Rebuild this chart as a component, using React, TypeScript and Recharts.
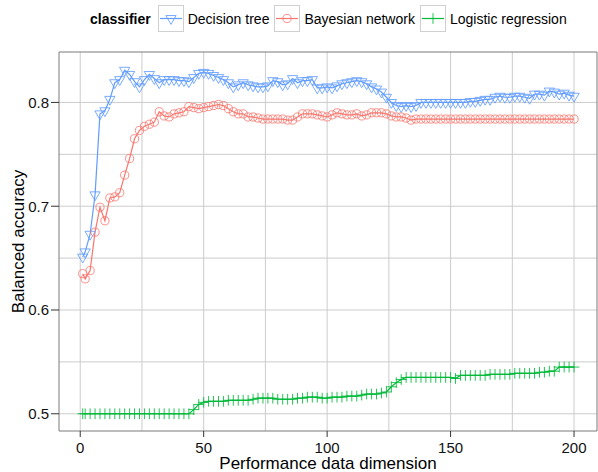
import React from 'react';
import {
  LineChart,
  Line,
  XAxis,
  YAxis,
  CartesianGrid,
  Legend,
  ReferenceArea,
  Label,
} from 'recharts';

const FONT = '"Liberation Sans", Arial, Helvetica, sans-serif';

const BLUE = '#619CFF';
const RED = '#F8766D';
const GREEN = '#00BA38';

// performance data dimension
const dimensions = [
  1, 2, 4, 6, 8, 10, 12, 14, 16, 18,
  20, 22, 24, 26, 28, 30, 32, 34, 36, 38,
  40, 42, 44, 46, 48, 50, 52, 54, 56, 58,
  60, 62, 64, 66, 68, 70, 72, 74, 76, 78,
  80, 82, 84, 86, 88, 90, 92, 94, 96, 98,
  100, 102, 104, 106, 108, 110, 112, 114, 116, 118,
  120, 122, 124, 126, 128, 130, 132, 134, 136, 138,
  140, 142, 144, 146, 148, 150, 152, 154, 156, 158,
  160, 162, 164, 166, 168, 170, 172, 174, 176, 178,
  180, 182, 184, 186, 188, 190, 192, 194, 196, 198,
  200,
];

const decisionTree = [
  0.651, 0.656, 0.673, 0.711, 0.789, 0.792, 0.803, 0.819, 0.822, 0.831,
  0.827, 0.820, 0.815, 0.822, 0.827, 0.823, 0.819, 0.822, 0.822, 0.822,
  0.821, 0.821, 0.820, 0.824, 0.828, 0.829, 0.828, 0.826, 0.824, 0.822,
  0.819, 0.815, 0.817, 0.819, 0.817, 0.816, 0.815, 0.815, 0.816, 0.821,
  0.820, 0.817, 0.818, 0.823, 0.819, 0.821, 0.821, 0.822, 0.814, 0.814,
  0.815, 0.814, 0.816, 0.818, 0.819, 0.820, 0.821, 0.820, 0.818, 0.815,
  0.813, 0.810, 0.805, 0.800, 0.797, 0.796, 0.797, 0.796, 0.797, 0.800,
  0.800, 0.800, 0.800, 0.800, 0.800, 0.800, 0.800, 0.800, 0.800, 0.801,
  0.801, 0.802, 0.803, 0.803, 0.805, 0.806, 0.805, 0.805, 0.806, 0.806,
  0.805, 0.804, 0.808, 0.808, 0.807, 0.811, 0.810, 0.808, 0.809, 0.807,
  0.806,
];

const bayesianNetwork = [
  0.635, 0.630, 0.638, 0.675, 0.699, 0.686, 0.708, 0.709, 0.713, 0.730,
  0.746, 0.765, 0.773, 0.777, 0.779, 0.781, 0.791, 0.787, 0.786, 0.789,
  0.790, 0.791, 0.796, 0.795, 0.794, 0.795, 0.796, 0.797, 0.798, 0.797,
  0.794, 0.791, 0.789, 0.789, 0.786, 0.786, 0.785, 0.784, 0.784, 0.784,
  0.784, 0.784, 0.783, 0.783, 0.786, 0.789, 0.789, 0.789, 0.788, 0.787,
  0.786, 0.788, 0.790, 0.789, 0.788, 0.788, 0.789, 0.787, 0.788, 0.790,
  0.790, 0.790, 0.789, 0.787, 0.786, 0.786, 0.785, 0.783, 0.784, 0.784,
  0.784, 0.784, 0.784, 0.784, 0.784, 0.784, 0.784, 0.784, 0.784, 0.784,
  0.784, 0.784, 0.784, 0.784, 0.784, 0.784, 0.784, 0.784, 0.784, 0.784,
  0.784, 0.784, 0.784, 0.784, 0.784, 0.784, 0.784, 0.784, 0.784, 0.784,
  0.784,
];

const logisticRegression = [
  0.500, 0.500, 0.500, 0.500, 0.500, 0.500, 0.500, 0.500, 0.500, 0.500,
  0.500, 0.500, 0.500, 0.500, 0.500, 0.500, 0.500, 0.500, 0.500, 0.500,
  0.500, 0.500, 0.500, 0.504, 0.509, 0.511, 0.512, 0.512, 0.512, 0.512,
  0.513, 0.513, 0.513, 0.513, 0.513, 0.514, 0.515, 0.515, 0.515, 0.515,
  0.514, 0.514, 0.514, 0.514, 0.515, 0.515, 0.516, 0.516, 0.516, 0.515,
  0.515, 0.516, 0.516, 0.516, 0.517, 0.517, 0.517, 0.518, 0.519, 0.519,
  0.519, 0.520, 0.521, 0.526, 0.530, 0.533, 0.535, 0.535, 0.535, 0.535,
  0.535, 0.535, 0.535, 0.535, 0.535, 0.535, 0.534, 0.537, 0.537, 0.537,
  0.537, 0.537, 0.537, 0.538, 0.538, 0.538, 0.538, 0.538, 0.539, 0.539,
  0.539, 0.539, 0.539, 0.540, 0.540, 0.541, 0.541, 0.545, 0.545, 0.545,
  0.545,
];

const xTicks = [0, 50, 100, 150, 200];
const yTicks = [0.5, 0.6, 0.7, 0.8];
const xGrid = [0, 25, 50, 75, 100, 125, 150, 175, 200];
const yGrid = [0.5, 0.55, 0.6, 0.65, 0.7, 0.75, 0.8];

const X_DOMAIN: [number, number] = [-8.6, 209.3];
const Y_DOMAIN: [number, number] = [0.4834, 0.8486];

const chartData = dimensions.map((d, i) => ({
  dimension: d,
  tree: decisionTree[i],
  bayes: bayesianNetwork[i],
  logit: logisticRegression[i],
}));

// marker sizes roughly like R's pch 1 / 3 / 6
const R = 3.8;

function TriangleDown({ cx, cy, stroke }: { cx: number; cy: number; stroke: string }) {
  const xc = 1.3468 * R;
  const r = 1.5551 * R;
  const yc = 0.7776 * R;
  return (
    <path
      d={`M${cx - xc},${cy - yc}L${cx + xc},${cy - yc}L${cx},${cy + r}Z`}
      fill="none"
      stroke={stroke}
      strokeOpacity={0.85}
      strokeWidth={1}
    />
  );
}

function OpenCircle({ cx, cy, stroke }: { cx: number; cy: number; stroke: string }) {
  return <circle cx={cx} cy={cy} r={4.1} fill="none" stroke={stroke} strokeOpacity={0.8} strokeWidth={1} />;
}

function Plus({ cx, cy, stroke }: { cx: number; cy: number; stroke: string }) {
  const h = 1.414 * R;
  return (
    <path
      d={`M${cx - h},${cy}L${cx + h},${cy}M${cx},${cy - h}L${cx},${cy + h}`}
      stroke={stroke}
      strokeOpacity={0.85}
      strokeWidth={1}
    />
  );
}

const series = [
  { key: 'tree', name: 'Decision tree', color: BLUE, Marker: TriangleDown },
  { key: 'bayes', name: 'Bayesian network', color: RED, Marker: OpenCircle },
  { key: 'logit', name: 'Logistic regression', color: GREEN, Marker: Plus },
];

function LegendKey({ color, Marker }: { color: string; Marker: any }) {
  return (
    <svg width={26} height={27} style={{ display: 'block' }}>
      <rect x={0.5} y={0.5} width={25} height={26} fill="#fff" stroke="#d0d0d0" />
      <line x1={2} x2={24} y1={13.5} y2={13.5} stroke={color} strokeWidth={1.2} />
      <Marker cx={13} cy={13.5} stroke={color} />
    </svg>
  );
}

function ClassifierLegend() {
  return (
    <div
      style={{
        display: 'flex',
        alignItems: 'center',
        fontFamily: FONT,
        fontSize: 14,
        color: '#000',
        whiteSpace: 'nowrap',
      }}
    >
      <span style={{ fontWeight: 'bold', marginRight: 7 }}>classifier</span>
      {series.map((s) => (
        <div key={s.key} style={{ display: 'flex', alignItems: 'center', marginRight: 5 }}>
          <LegendKey color={s.color} Marker={s.Marker} />
          <span style={{ marginLeft: 4 }}>{s.name}</span>
        </div>
      ))}
    </div>
  );
}

export default function App() {
  const tickStyle = { fill: '#111', fontSize: 15, fontFamily: FONT };

  return (
    <div style={{ position: 'absolute', left: 0, top: 0, background: '#fff' }}>
      <LineChart
        width={598}
        height={472}
        data={chartData}
        margin={{ top: 52, right: 1, bottom: 0, left: 0 }}
      >
        <CartesianGrid
          horizontalValues={yGrid}
          verticalValues={xGrid}
          stroke="#cccccc"
          strokeWidth={1}
        />
        <XAxis
          type="number"
          dataKey="dimension"
          domain={X_DOMAIN}
          ticks={xTicks}
          allowDataOverflow
          height={41}
          axisLine={false}
          tickLine={{ stroke: '#333' }}
          tickSize={6}
          tickMargin={5}
          tick={tickStyle}
          interval={0}
        >
          <Label
            content={({ viewBox }: any) => (
              <text
                x={viewBox.x + viewBox.width / 2}
                y={469}
                textAnchor="middle"
                fontFamily={FONT}
                fontSize={17}
                fill="#000"
              >
                Performance data dimension
              </text>
            )}
          />
        </XAxis>
        <YAxis
          type="number"
          domain={Y_DOMAIN}
          ticks={yTicks}
          allowDataOverflow
          width={59}
          axisLine={false}
          tickLine={{ stroke: '#333' }}
          tickSize={8}
          tickMargin={2}
          tick={tickStyle}
          tickFormatter={(v: number) => v.toFixed(1)}
          interval={0}
        >
          <Label
            content={({ viewBox }: any) => {
              const cy = viewBox.y + viewBox.height / 2;
              return (
                <text
                  x={24}
                  y={cy}
                  transform={`rotate(-90, 24, ${cy})`}
                  textAnchor="middle"
                  fontFamily={FONT}
                  fontSize={17}
                  fill="#000"
                >
                  Balanced accuracy
                </text>
              );
            }}
          />
        </YAxis>
        <Legend
          layout="vertical"
          align="center"
          verticalAlign="middle"
          wrapperStyle={{ top: 5, left: 90, width: 'auto', height: 27 }}
          content={() => <ClassifierLegend />}
        />
        {series.map((s) => (
          <Line
            key={s.key}
            type="linear"
            dataKey={s.key}
            name={s.name}
            stroke={s.color}
            strokeWidth={1.2}
            isAnimationActive={false}
            activeDot={false}
            dot={(p: any) => <s.Marker key={`${s.key}-${p.index}`} cx={p.cx} cy={p.cy} stroke={s.color} />}
          />
        ))}
        <ReferenceArea
          x1={X_DOMAIN[0]}
          x2={X_DOMAIN[1]}
          y1={Y_DOMAIN[0]}
          y2={Y_DOMAIN[1]}
          fill="none"
          stroke="#7a7a7a"
          strokeWidth={1}
          ifOverflow="visible"
        />
      </LineChart>
    </div>
  );
}
